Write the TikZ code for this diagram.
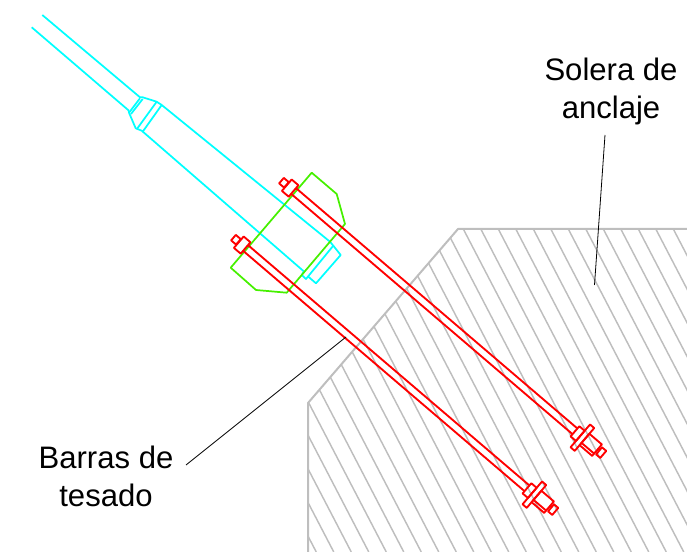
\documentclass[tikz,border=0pt]{standalone}
\usepackage{fontspec}
\setmainfont{Liberation Sans}
\definecolor{hatchgray}{RGB}{190,190,190}
\definecolor{cablecyan}{RGB}{0,255,255}
\definecolor{platered}{RGB}{255,0,0}
\definecolor{wedgegreen}{RGB}{70,240,0}
\tikzset{
  hatchline/.style={draw=hatchgray,line width=1.1pt},
  slabedge/.style={draw=hatchgray,line width=1.5pt,line join=round},
  cable/.style={draw=cablecyan,line width=1.3pt,line join=round},
  wedge/.style={draw=wedgegreen,line width=1.3pt,line join=round},
  rod/.style={draw=platered,line width=1.4pt,line join=round},
  leader/.style={draw=black,line width=0.6pt},
  label/.style={font=\fontsize{23.3}{28.5}\selectfont,align=center,inner sep=0pt},
  pics/bolt/.style={code={
    \draw[rod] (-7,-3.6) rectangle (-0.5,3.6);
    \draw[rod] (0,-7.5) rectangle (8.9,7.5);
    \draw[rod] (8.9,-3.75) -- (379,-3.75);
    \draw[rod] (8.9,3.75) -- (379,3.75);
    \draw[rod] (379,-6.7) rectangle (386,6.7);
    \draw[rod] (386,-15) rectangle (391.5,15);
    \draw[rod] (391.5,-7.5) rectangle (408,7.5);
    \draw[rod] (391.5,4.5) -- (408,4.5);
    \draw[rod] (410,-5.4) rectangle (415.5,3.8);
    \draw[rod] (408,-2) -- (410,-2);
  }}
}
\begin{document}
\begin{tikzpicture}[x=0.75pt,y=-0.75pt]
\useasboundingbox (0,0) rectangle (687,552);
% anchorage slab
\begin{scope}
  \clip (687,229) -- (458,229) -- (308,403) -- (308,552) -- (687,552) -- cycle;
  \foreach \k in {-25,...,15} {
    \draw[hatchline] ({463.3+17.5*\k},229) -- ({463.3+17.5*\k+0.52*323},552);
  }
\end{scope}
\draw[slabedge] (687,229) -- (458,229) -- (308,403) -- (308,552);
% cable
\draw[cable] (42.3,15) -- (140,97.3) -- (142.7,97.3) -- (156.7,101.7) -- (161.7,105) -- (330,241.7) -- (333.3,245.7) -- (306,279) -- (301.7,275) -- (304,271.5) -- (141.7,130.7) -- (135.7,128.3) -- (129,112.7) -- (128.5,110.3) -- (31.7,27.3);
\draw[cable] (140,98.3) -- (129,112.7);
\draw[cable] (142.7,99) -- (131,114);
\draw[cable] (156.7,101.7) -- (136.7,129.3);
\draw[cable] (161.7,105) -- (142.7,131.7);
\draw[cable] (333.3,245.7) -- (340.7,255) -- (316,283.3) -- (308.3,276.7);
% wedge
\draw[wedge] (311.7,172.7) -- (336.7,194) -- (345,224) -- (286.7,292.7) -- (256,290) -- (230.7,267.7) -- cycle;
% bars
\pic[shift={(286.8,185.2)},rotate=-40.5] (upperbolt) {bolt};
\pic[shift={(238.8,242.2)},rotate=-40.5] (lowerbolt) {bolt};
% labels
\node[label] (solera) at (611,91.5) {Solera de\\anclaje};
\node[label] (barras) at (106,476) {Barras de\\tesado};
\coordinate (soleraend) at (594.5,285);
\coordinate (soleratop) at (605,135);
\coordinate (barrasstart) at (186,465);
\coordinate (barrasend) at (346,337);
\draw[leader] (soleratop) -- (soleraend);
\draw[leader] (barrasstart) -- (barrasend);
\end{tikzpicture}
\end{document}
